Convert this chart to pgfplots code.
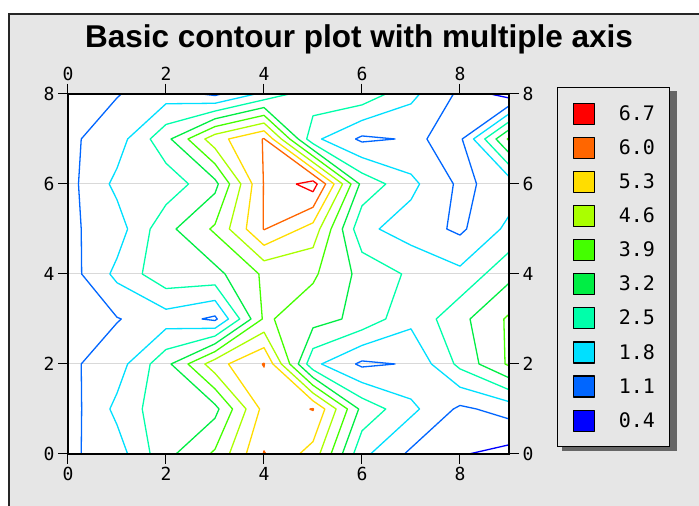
\documentclass[border=0pt]{standalone}
\usepackage{fontspec}
\setmainfont{Liberation Sans}
\newfontfamily\monofont{DejaVu Sans Mono}
\usepackage{pgfplots}
\pgfplotsset{compat=1.18}
\definecolor{c9}{HTML}{FF0000}
\definecolor{c8}{HTML}{FF6600}
\definecolor{c7}{HTML}{FFDD00}
\definecolor{c6}{HTML}{AAFF00}
\definecolor{c5}{HTML}{44FF00}
\definecolor{c4}{HTML}{00EE44}
\definecolor{c3}{HTML}{00FFAA}
\definecolor{c2}{HTML}{00E0FF}
\definecolor{c1}{HTML}{0066FF}
\definecolor{c0}{HTML}{0000FF}
\definecolor{bg}{HTML}{E6E6E6}
\pgfplotsset{
  lev/.style={draw=#1, line width=1.3pt, mark=none, line join=round,
    legend image code/.code={\draw[draw=black, line width=1.2pt, fill=#1] (0pt,-10.5pt) rectangle (21pt,10.5pt);}},
  levf/.style={draw=#1, line width=1.3pt, mark=none, line join=round, forget plot},
  common/.style={at={(68pt,52pt)}, anchor=south west, scale only axis,
    width=441pt, height=360pt, xmin=0, xmax=9, ymin=0, ymax=8,
    xtick={0,2,4,6,8}, ytick={0,2,4,6,8}, minor tick num=0,
    tick align=outside, major tick length=10pt,
    tick style={black, line width=1pt},
    axis line style={black, line width=1.3pt},
    /pgf/number format/assume math mode=true,
    ticklabel style={font=\monofont\fontsize{18}{18}\selectfont}}
}
\begin{document}
\begin{tikzpicture}
\path[use as bounding box] (0,0) rectangle (699pt,506pt);
\fill[white] (0,0) rectangle (699pt,506pt);
\fill[bg] (9pt,0) rectangle (699pt,492pt);
\draw[line width=1.6pt, black!85] (9pt,0) -- (9pt,492pt) -- (699pt,492pt);
\node[anchor=base, inner sep=0pt, font=\bfseries\fontsize{31.5}{36}\selectfont] at (359pt,458pt) {Basic contour plot with multiple axis};
% legend shadow
\fill[black!60] (562pt,55pt) rectangle (677pt,415pt);
\begin{axis}[common,
  xticklabel pos=bottom, yticklabel pos=left,
  ymajorgrids, major grid style={black!15, line width=1pt},
  axis background/.style={fill=white},
  legend cell align=left,
  legend style={at={(axis description cs:1.1088,1.0194)}, anchor=north west,
    draw=black, line width=1.2pt, fill=bg, inner xsep=15pt, inner ysep=15pt,
    row sep=11.9pt, column sep=24pt, nodes={inner sep=0pt},
    font=\monofont\fontsize{20}{20}\selectfont},
]
% level 6.655
\addplot[lev=c9] coordinates {(4.655,6) (5,6.069) (5.086,6) (5,5.828) (4.655,6)};
\addlegendentry{6.7}
% level 5.965
\addplot[lev=c8] coordinates {(4,4.983) (4.035,5) (5,5.483) (5.259,6) (5,6.207) (4.009,7) (4,7.009) (3.965,7) (3.988,6) (3.983,5) (4,4.983)};
\addlegendentry{6.0}
\addplot[levf=c8] coordinates {(3.965,2) (4,2.018) (4.009,2) (4,1.93) (3.965,2)};
\addplot[levf=c8] coordinates {(4.93,1) (5,1.009) (5.012,1) (5,0.965) (4.93,1)};
\addplot[levf=c8] coordinates {(3.983,0) (4,0.07) (4.035,0)};
% level 5.275
\addplot[lev=c7] coordinates {(4,4.638) (4.725,5) (5,5.138) (5.431,6) (5,6.345) (4.181,7) (4,7.181) (3.275,7) (3.758,6) (3.638,5) (4,4.638)};
\addlegendentry{5.3}
\addplot[levf=c7] coordinates {(3.638,0) (3.91,1) (3.275,2) (4,2.363) (4.181,2) (5,1.181) (5.242,1) (5,0.275) (4.725,0)};
% level 4.585
\addplot[lev=c6] coordinates {(4,4.293) (5,4.585) (5.138,5) (5.604,6) (5,6.483) (4.354,7) (4,7.354) (3,7.104) (2.793,7) (3,6.793) (3.528,6) (3.293,5) (4,4.293)};
\addlegendentry{4.6}
\addplot[levf=c6] coordinates {(3.293,0) (3.634,1) (3,1.793) (2.793,2) (3,2.104) (4,2.708) (4.354,2) (5,1.354) (5.472,1) (5.138,0)};
% level 3.895
\addplot[lev=c5] coordinates {(2.895,0) (3,0.105) (3.358,1) (3,1.448) (2.448,2) (3,2.276) (3.965,3) (3.895,4) (3,4.895) (2.895,5) (3,5.105) (3.298,6) (3,6.448) (2.448,7) (3,7.276) (4,7.526) (4.526,7) (5,6.621) (5.776,6) (5.368,5) (5.105,4) (5,3.79) (4.21,3) (4.526,2) (5,1.526) (5.702,1) (5.368,0)};
\addlegendentry{3.9}
\addplot[levf=c5] coordinates {(9,6.96) (8.965,7) (9,7.027)};
\addplot[levf=c5] coordinates {(9,3.105) (8.895,3) (8.919,2) (9,1.96)};
% level 3.205
\addplot[lev=c4] coordinates {(2.205,0) (3,0.795) (3.082,1) (3,1.103) (2.103,2) (3,2.449) (3.735,3) (3.205,4) (3,4.205) (2.205,5) (3,5.795) (3.068,6) (3,6.103) (2.103,7) (3,7.449) (4,7.699) (4.699,7) (5,6.759) (5.949,6) (5.598,5) (5.795,4) (5.59,3) (5,2.803) (4.699,2) (5,1.699) (5.932,1) (5.598,0)};
\addlegendentry{3.2}
\addplot[levf=c4] coordinates {(9,6.694) (8.735,7) (9,7.204)};
\addplot[levf=c4] coordinates {(9,3.795) (8.205,3) (8.388,2) (9,1.694)};
% level 2.515
\addplot[lev=c3] coordinates {(4.515,8) (4,7.871) (3,7.621) (2,7.323) (1.677,7) (2,6.461) (2.461,6) (2,5.539) (1.677,5) (1.515,4) (2,3.677) (3,3.758) (3.505,3) (3,2.621) (2,2.323) (1.677,2) (1.515,1) (1.677,0)};
\addlegendentry{2.5}
\addplot[levf=c3] coordinates {(6.485,8) (6,7.758) (5,7.515) (4.871,7) (5,6.897) (6,6.243) (6.485,6) (6,5.515) (5.828,5) (6,4.485) (6.808,4) (6.485,3) (6,2.758) (5,2.343) (4.871,2) (5,1.871) (6,1.243) (6.485,1) (6,0.515) (5.828,0)};
\addplot[levf=c3] coordinates {(9,4.485) (8.515,4) (8,3.485) (7.515,3) (7.877,2) (8,1.891) (9,1.429)};
\addplot[levf=c3] coordinates {(9,6.429) (8.505,7) (9,7.381)};
% level 1.825
\addplot[lev=c2] coordinates {(3.825,8) (3,7.794) (2,7.783) (1.217,7) (1,6.35) (0.841,6) (1,5.65) (1.217,5) (1,4.35) (0.854,4) (1,3.806) (2,3.217) (3,3.413) (3.275,3) (3,2.794) (2,2.783) (1.217,2) (1,1.35) (0.854,1) (1,0.65) (1.217,0)};
\addlegendentry{1.8}
\addplot[levf=c2] coordinates {(7.175,8) (7,7.781) (6,7.413) (5.175,7) (6,6.588) (7,6.219) (7.175,6) (7,5.65) (6.35,5) (7,4.639) (8,4.175) (8.825,5) (9,5.292)};
\addplot[levf=c2] coordinates {(9,6.164) (8.275,7) (9,7.558)};
\addplot[levf=c2] coordinates {(6.175,0) (7,0.825) (7.175,1) (7,1.219) (6,1.588) (5.175,2) (6,2.413) (7,2.781) (7.417,2) (8,1.485) (9,1.164)};
% level 1.135
\addplot[lev=c1] coordinates {(1.088,8) (1,7.913) (0.27,7) (0.214,6) (0.27,5) (0.279,4) (1,3.039) (1.088,3) (1,2.913) (0.27,2) (0.279,1) (0.27,0)};
\addlegendentry{1.1}
\addplot[levf=c1] coordinates {(2.73,8) (3,7.966) (3.135,8)};
\addplot[levf=c1] coordinates {(5.865,7) (6,7.068) (6.675,7) (6,6.933) (5.865,7)};
\addplot[levf=c1] coordinates {(7.865,8) (7.325,7) (7.865,6) (7.73,5) (8,4.865) (8.135,5) (8.338,6) (8.045,7) (9,7.735)};
\addplot[levf=c1] coordinates {(2.73,3) (3,3.068) (3.045,3) (3,2.966) (2.73,3)};
\addplot[levf=c1] coordinates {(5.865,2) (6,2.068) (6.675,2) (6,1.933) (5.865,2)};
\addplot[levf=c1] coordinates {(6.865,0) (7,0.135) (7.865,1) (8,1.079) (8.338,1) (9,0.779)};
% level 0.445
\addplot[lev=c0] coordinates {(8.617,8) (9,7.912)};
\addlegendentry{0.4}
\addplot[levf=c0] coordinates {(8.183,0) (9,0.204)};
\end{axis}
\begin{axis}[common, xticklabel pos=top, yticklabel pos=right]
\end{axis}
\end{tikzpicture}
\end{document}
